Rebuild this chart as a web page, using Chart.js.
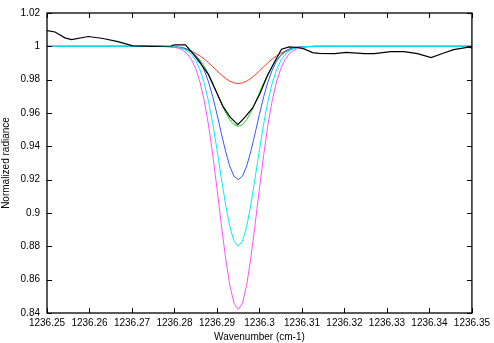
<!DOCTYPE html>
<html>
<head>
<meta charset="utf-8">
<script src="https://cdn.jsdelivr.net/npm/chart.js@4"></script>
<style>
  html, body { margin: 0; padding: 0; background: #fff; }
  #wrap { width: 494px; height: 343px; }
</style>
</head>
<body>
<div id="wrap"><canvas id="chart" width="494" height="343"></canvas></div>
<script>
// model spectra, sampled on a shared wavenumber grid
const wavenumber = [
  1236.250, 1236.270, 1236.275, 1236.277, 1236.279, 1236.280, 1236.281, 1236.282,
  1236.283, 1236.284, 1236.285, 1236.286, 1236.287, 1236.288, 1236.289, 1236.290,
  1236.291, 1236.292, 1236.293, 1236.294, 1236.295, 1236.296, 1236.297, 1236.298,
  1236.299, 1236.300, 1236.301, 1236.302, 1236.303, 1236.304, 1236.305, 1236.306,
  1236.307, 1236.308, 1236.309, 1236.310, 1236.311, 1236.313, 1236.315, 1236.320,
  1236.350
];
const redModel = [
  1.0, 1.0, 1.0, 0.9999, 0.9997, 0.9995, 0.9992, 0.9987, 0.9980, 0.9971, 0.9958,
  0.9943, 0.9924, 0.9902, 0.9878, 0.9853, 0.9829, 0.9808, 0.9791, 0.9781, 0.9777,
  0.9781, 0.9791, 0.9808, 0.9829, 0.9853, 0.9878, 0.9902, 0.9924, 0.9943, 0.9958,
  0.9971, 0.9980, 0.9987, 0.9992, 0.9995, 0.9997, 0.9999, 1.0, 1.0, 1.0
];
const greenModel = [
  1.0, 1.0, 1.0, 1.0, 0.9998, 0.9996, 0.9993, 0.9988, 0.9979, 0.9965, 0.9945,
  0.9917, 0.9880, 0.9834, 0.9780, 0.9721, 0.9661, 0.9605, 0.9560, 0.9530, 0.9520,
  0.9530, 0.9560, 0.9605, 0.9661, 0.9721, 0.9780, 0.9834, 0.9880, 0.9917, 0.9945,
  0.9965, 0.9979, 0.9988, 0.9993, 0.9996, 0.9998, 1.0, 1.0, 1.0, 1.0
];
const blueModel = [
  1.0, 1.0, 1.0, 1.0, 0.9999, 0.9998, 0.9996, 0.9992, 0.9984, 0.9970, 0.9946,
  0.9910, 0.9858, 0.9787, 0.9698, 0.9593, 0.9481, 0.9373, 0.9282, 0.9221, 0.9200,
  0.9221, 0.9282, 0.9373, 0.9481, 0.9593, 0.9698, 0.9787, 0.9858, 0.9910, 0.9946,
  0.9970, 0.9984, 0.9992, 0.9996, 0.9998, 0.9999, 1.0, 1.0, 1.0, 1.0
];
const cyanModel = [
  1.0, 1.0, 1.0, 1.0, 0.9999, 0.9997, 0.9993, 0.9986, 0.9973, 0.9951, 0.9915,
  0.9859, 0.9779, 0.9671, 0.9536, 0.9380, 0.9214, 0.9054, 0.8920, 0.8831, 0.8800,
  0.8831, 0.8920, 0.9054, 0.9214, 0.9380, 0.9536, 0.9671, 0.9779, 0.9859, 0.9915,
  0.9951, 0.9973, 0.9986, 0.9993, 0.9997, 0.9999, 1.0, 1.0, 1.0, 1.0
];
const magentaModel = [
  1.0, 1.0, 1.0, 1.0, 0.9997, 0.9994, 0.9988, 0.9976, 0.9955, 0.9920, 0.9866,
  0.9786, 0.9675, 0.9529, 0.9350, 0.9148, 0.8936, 0.8735, 0.8569, 0.8459, 0.8420,
  0.8459, 0.8569, 0.8735, 0.8936, 0.9148, 0.9350, 0.9529, 0.9675, 0.9786, 0.9866,
  0.9920, 0.9955, 0.9976, 0.9988, 0.9994, 0.9997, 1.0, 1.0, 1.0, 1.0
];

// measured spectrum (own grid)
const measuredWavenumber = [
  1236.2500, 1236.2519, 1236.2542, 1236.2558, 1236.2597, 1236.2632, 1236.2667,
  1236.2702, 1236.2750, 1236.2791, 1236.2800, 1236.2826, 1236.2844, 1236.2862,
  1236.2880, 1236.2897, 1236.2914, 1236.2931, 1236.2949, 1236.2966, 1236.2984,
  1236.3001, 1236.3018, 1236.3035, 1236.3052, 1236.3070, 1236.3090, 1236.3105,
  1236.3125, 1236.3140, 1236.3177, 1236.3204, 1236.3247, 1236.3270, 1236.3309,
  1236.3340, 1236.3372, 1236.3404, 1236.3434, 1236.3457, 1236.3492, 1236.3500
];
const measuredRadiance = [
  1.0094, 1.0086, 1.0051, 1.0040, 1.0059, 1.0047, 1.0028,
  1.0003, 1.0000, 1.0002, 1.0009, 1.0009, 0.9955, 0.9895,
  0.9830, 0.9735, 0.9640, 0.9575, 0.9530, 0.9575, 0.9630,
  0.9715, 0.9820, 0.9905, 0.9983, 0.9997, 0.9993, 0.9985,
  0.9962, 0.9958, 0.9956, 0.9964, 0.9956, 0.9956, 0.9968,
  0.9968, 0.9956, 0.9933, 0.9960, 0.9980, 0.9995, 0.9990
];

const xTicks = [1236.25, 1236.26, 1236.27, 1236.28, 1236.29, 1236.3,
  1236.31, 1236.32, 1236.33, 1236.34, 1236.35];
const yTicks = [0.84, 0.86, 0.88, 0.9, 0.92, 0.94, 0.96, 0.98, 1, 1.02];

const FONT = { family: "'Liberation Sans', Arial, sans-serif", size: 10 };

const toPoints = (xs, ys) => xs.map((x, i) => ({ x: x, y: ys[i] }));

// lower "order" is painted later, i.e. on top
const line = (label, xs, ys, color, width, order) => ({
  label: label,
  data: toPoints(xs, ys),
  borderColor: color,
  backgroundColor: color,
  borderWidth: width,
  showLine: true,
  pointRadius: 0,
  tension: 0,
  order: order
});

// gnuplot-like box with inward ticks on all four sides
const frame = {
  id: "frame",
  afterDatasetsDraw(chart) {
    const { ctx, chartArea: a, scales } = chart;
    const tick = 5;
    ctx.save();
    ctx.strokeStyle = "#000";
    ctx.lineWidth = 1;
    ctx.beginPath();
    xTicks.forEach((v) => {
      const px = Math.round(scales.x.getPixelForValue(v)) + 0.5;
      ctx.moveTo(px, a.bottom);
      ctx.lineTo(px, a.bottom - tick);
      ctx.moveTo(px, a.top);
      ctx.lineTo(px, a.top + tick);
    });
    yTicks.forEach((v) => {
      const py = Math.round(scales.y.getPixelForValue(v)) + 0.5;
      ctx.moveTo(a.left, py);
      ctx.lineTo(a.left + tick, py);
      ctx.moveTo(a.right, py);
      ctx.lineTo(a.right - tick, py);
    });
    ctx.stroke();
    ctx.lineWidth = 1.3;
    ctx.strokeRect(a.left, a.top, a.right - a.left, a.bottom - a.top);
    ctx.restore();
  }
};

const fmt = (v) => String(Number(v.toFixed(2)));

new Chart(document.getElementById("chart").getContext("2d"), {
  type: "scatter",
  data: {
    datasets: [
      line("measured", measuredWavenumber, measuredRadiance, "#000000", 1.2, 0),
      line("red", wavenumber, redModel, "#ff3a1a", 1, 5),
      line("green", wavenumber, greenModel, "#1fcc1f", 1, 4),
      line("blue", wavenumber, blueModel, "#3a55ff", 1, 2),
      line("cyan", wavenumber, cyanModel, "#00f0f0", 1, 1),
      line("magenta", wavenumber, magentaModel, "#ff50ff", 1, 3)
    ]
  },
  options: {
    responsive: false,
    animation: false,
    devicePixelRatio: 1,
    layout: { padding: { top: 4, right: 19, bottom: 0, left: 0 } },
    plugins: {
      legend: { display: false },
      tooltip: { enabled: false }
    },
    scales: {
      x: {
        type: "linear",
        min: 1236.25,
        max: 1236.35,
        afterBuildTicks: (s) => { s.ticks = xTicks.map((v) => ({ value: v })); },
        afterFit: (s) => { s.height = 30; },
        grid: { display: false, drawTicks: false },
        border: { display: false },
        ticks: {
          padding: 4,
          color: "#000",
          font: FONT,
          maxRotation: 0,
          autoSkip: false,
          callback: (v) => fmt(v)
        },
        title: {
          display: true,
          text: "Wavenumber (cm-1)",
          color: "#000",
          font: FONT,
          padding: { top: 0, bottom: 0 }
        }
      },
      y: {
        type: "linear",
        min: 0.84,
        max: 1.02,
        afterBuildTicks: (s) => { s.ticks = yTicks.map((v) => ({ value: v })); },
        afterFit: (s) => { s.width = 47; },
        grid: { display: false, drawTicks: false },
        border: { display: false },
        ticks: {
          padding: 7,
          color: "#000",
          font: FONT,
          autoSkip: false,
          callback: (v) => fmt(v)
        },
        title: {
          display: true,
          text: "Normalized radiance",
          color: "#000",
          font: FONT,
          padding: { top: 0, bottom: 0 }
        }
      }
    }
  },
  plugins: [frame]
});
</script>
</body>
</html>
